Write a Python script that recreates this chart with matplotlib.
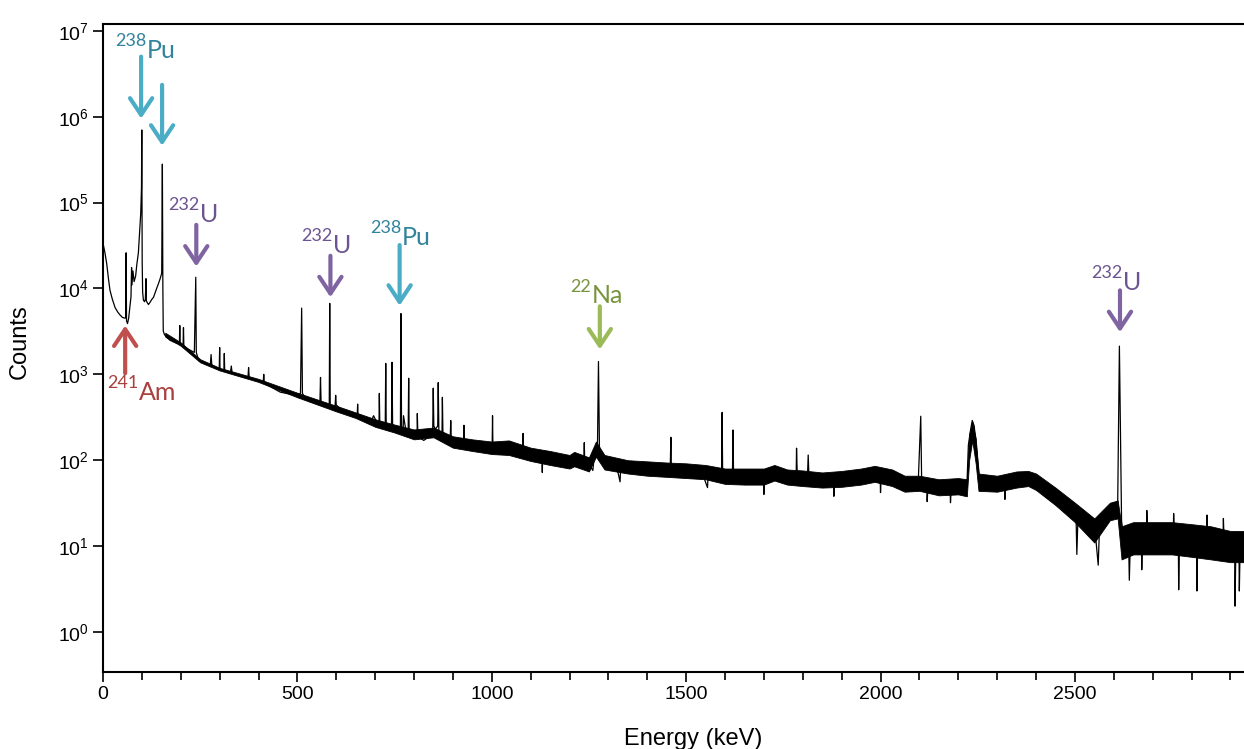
import numpy as np
import matplotlib
matplotlib.use("Agg")
import matplotlib.pyplot as plt

# gamma spectrum (keV, counts); peaks are the narrow spikes
energy = [0, 1, 5, 9.5, 14, 18, 24, 31, 38, 44, 50, 57, 58.5, 59.5, 60.5, 63, 66, 70, 72, 73.5, 74.5,
          77, 80, 84, 87, 91, 94, 97, 99, 99.8, 100.8, 102, 104, 107, 109, 110.5, 111.5, 114, 117,
          121, 125, 130, 134, 138, 143, 147, 151, 152.7, 154, 155, 158, 164, 172, 180, 190, 196.5,
          197.5, 198.5, 206, 207, 208, 216, 225, 235, 238.6, 240, 246, 255, 265, 276, 278, 280, 290,
          299, 300.1, 301, 311, 312, 313, 328, 330, 332, 340, 355, 373, 374.5, 376, 395, 400, 412,
          413.5, 415, 435, 456, 480, 499, 508, 510, 511, 513, 520, 540, 558, 559.5, 561, 575, 582,
          583.2, 584.5, 590, 597, 598.5, 600, 615, 628, 640, 654, 655, 656, 670, 688, 696, 702, 710,
          710.8, 712, 720, 726, 727.3, 728.5, 735, 742, 743.5, 745, 755, 765, 766.4, 768, 772, 773,
          780, 785, 786.3, 787.5, 800, 808, 808.5, 810, 825, 848, 849.5, 851, 855, 861, 862.3, 864,
          872, 873, 874.5, 885, 893, 894.5, 896, 903, 915, 928, 928.5, 930, 950, 970, 985, 1001,
          1002, 1003, 1020, 1044, 1060, 1080, 1080.5, 1082, 1109, 1129, 1130, 1131, 1140, 1170,
          1195, 1212, 1225, 1237, 1238, 1239, 1250, 1260, 1266, 1272, 1274.5, 1277, 1282, 1289,
          1320, 1330, 1332, 1366, 1400, 1440, 1459, 1460.8, 1462, 1500, 1539, 1555, 1557, 1580,
          1591, 1592.5, 1594, 1619, 1620.7, 1622, 1650, 1676, 1699, 1700, 1702, 1727, 1740, 1770,
          1783, 1784, 1786, 1812, 1814, 1816, 1848, 1879, 1880, 1882, 1933, 1985, 1999, 2000, 2002,
          2020, 2062, 2097, 2103.5, 2106, 2119, 2120, 2122, 2149, 2179, 2180, 2182, 2210, 2222,
          2226, 2232, 2236, 2241, 2250, 2256, 2295, 2319, 2320, 2322, 2330, 2363, 2389, 2415, 2441,
          2470, 2492, 2503, 2505, 2508, 2520, 2552, 2560, 2563, 2580, 2595, 2610, 2612, 2614.5, 2617,
          2620, 2625, 2638, 2640, 2643, 2671, 2672, 2674, 2684, 2685, 2687, 2724, 2753, 2754, 2756,
          2766, 2767, 2769, 2813, 2814, 2816, 2839, 2840, 2842, 2881, 2882, 2884, 2911, 2912, 2914,
          2922, 2923, 2925, 2935]
counts = [80, 32000, 26000, 19500, 13000, 9500, 7500, 6000, 5300, 4900, 4600, 4500, 4600, 26000,
          4200, 3900, 4500, 6600, 8000, 17500, 11000, 16000, 12000, 14000, 19000, 26000, 44000,
          74000, 150000, 700000, 20000, 9000, 7300, 7000, 7500, 13000, 7200, 6800, 6500, 6900,
          7400, 7900, 8900, 10000, 11500, 13000, 15000, 280000, 10000, 3200, 2900, 2700, 2500, 2400,
          2300, 2300, 3700, 2250, 2150, 3500, 2100, 2000, 1900, 1800, 13500, 1800, 1450, 1400, 1320,
          1270, 1700, 1260, 1200, 1150, 2050, 1150, 1100, 1750, 1100, 1050, 1250, 1050, 1000, 960,
          930, 1200, 920, 860, 850, 800, 1000, 790, 700, 620, 590, 570, 600, 3000, 5900, 600, 530,
          500, 470, 920, 460, 440, 430, 6700, 420, 400, 430, 570, 440, 380, 350, 340, 330, 450, 330,
          300, 270, 330, 290, 270, 600, 270, 260, 255, 1340, 255, 240, 230, 1380, 240, 230, 225,
          5100, 230, 225, 330, 210, 220, 900, 210, 200, 200, 350, 190, 170, 200, 690, 250, 230, 250,
          800, 210, 200, 540, 190, 175, 170, 290, 165, 160, 160, 155, 255, 150, 150, 145, 140, 140,
          330, 140, 130, 140, 130, 125, 205, 125, 115, 112, 72, 112, 108, 100, 92, 105, 100, 100,
          160, 100, 90, 76, 140, 150, 1410, 140, 110, 95, 90, 56, 90, 83, 80, 78, 78, 185, 78, 76,
          76, 48, 76, 65, 65, 360, 65, 65, 225, 65, 65, 62, 64, 40, 64, 72, 68, 63, 64, 138, 63, 62,
          115, 62, 59, 60, 38, 60, 63, 71, 68, 42, 68, 64, 54, 55, 325, 50, 48, 33, 48, 49, 48, 32,
          48, 50, 48, 150, 230, 290, 250, 100, 55, 54, 56, 35, 56, 60, 63, 60, 48, 37, 29, 24, 22,
          8, 22, 19, 15, 6, 15, 20, 26, 28, 200, 2130, 250, 20, 12, 12.6, 4, 12.6, 12.5, 5.3, 12.5,
          13, 26, 13, 12.6, 12.5, 24, 12.3, 12, 3.1, 12, 11.7, 3, 11.7, 11.3, 23, 11.3, 10.5, 21,
          10.5, 9.8, 2, 9.5, 9.5, 3, 9.8, 10]

# lower / upper edge of the dense noisy band of the continuum
band_e = [160, 200, 250, 300, 400, 500, 600, 650, 700, 750, 800, 850, 900, 950, 1000, 1044, 1100,
          1150, 1200, 1212, 1250, 1268, 1290, 1350, 1400, 1450, 1500, 1550, 1600, 1650, 1700, 1727,
          1760, 1800, 1850, 1900, 1950, 1985, 2030, 2062, 2100, 2150, 2200, 2222, 2228, 2236, 2245,
          2252, 2300, 2350, 2380, 2400, 2450, 2500, 2550, 2590, 2610, 2620, 2650, 2700, 2750, 2800,
          2850, 2900, 2935]
band_lo = [2750, 2150, 1380, 1110, 815, 540, 370, 310, 245, 210, 175, 185, 140, 128, 118, 115, 98,
           88, 80, 85, 74, 110, 78, 70, 66, 64, 62, 60, 53, 52, 52, 58, 52, 50, 48, 49, 52, 56, 50,
           43, 44, 39, 40, 38, 100, 170, 90, 44, 43, 48, 50, 45, 30, 19, 11, 20, 21, 7, 8, 8, 8, 7.5,
           7, 6.5, 6.5]
band_hi = [3050, 2350, 1500, 1190, 885, 610, 430, 360, 300, 260, 228, 240, 190, 175, 165, 170, 140,
           128, 115, 125, 108, 165, 115, 100, 97, 94, 92, 88, 80, 80, 80, 88, 78, 76, 72, 75, 80, 86,
           78, 66, 66, 60, 62, 60, 200, 280, 180, 70, 66, 74, 75, 70, 48, 32, 21, 32, 34, 17, 19, 19,
           19, 18, 17, 15, 15]

# annotations: superscript, symbol, split x (keV), baseline, arrow x, tail, tip, colours
ann_sup = ["238", None, "232", "232", "238", "22", "232", "241"]
ann_sym = ["Pu", None, "U", "U", "Pu", "Na", "U", "Am"]
ann_split = [113, 0, 249.5, 591.6, 769, 1258, 2623, 92.6]
ann_base = [4.8e6, 0, 5.9e4, 2.57e4, 3.2e4, 6.7e3, 9.6e3, 500]
ann_e = [98, 152, 240, 585, 763, 1278, 2616, 57]
ann_tail = [5.0e6, 2.35e6, 5.5e4, 2.4e4, 3.2e4, 6.2e3, 9.5e3, 1.03e3]
ann_tip = [9.5e5, 4.6e5, 1.8e4, 7.9e3, 6.3e3, 1.95e3, 3.1e3, 3.7e3]
arrow_col = ["#4BACC6", "#4BACC6", "#8064A2", "#8064A2", "#4BACC6", "#9BBB59", "#8064A2", "#C0504D"]
text_col = ["#31849B", "#31849B", "#6B5490", "#6B5490", "#31849B", "#77933C", "#6B5490", "#A8403D"]

plt.rcParams['font.family'] = ['Liberation Sans', 'DejaVu Sans']
plt.rcParams['mathtext.fontset'] = 'custom'
plt.rcParams['mathtext.rm'] = 'Liberation Sans'

fig = plt.figure(figsize=(12.44, 7.49), dpi=100)
ax = fig.add_axes([103 / 1244, 1 - 672 / 749, 1 - 103 / 1244, 648 / 749])

ax.fill_between(band_e, band_lo, band_hi, color="black", lw=0.6)
ax.plot(energy, counts, color="black", lw=0.9)

ax.set_yscale("log")
ax.set_xlim(0, 2935)
ax.set_ylim(0.342, 1.2e7)
ax.set_yticks([10.0 ** k for k in range(0, 8)])
ax.yaxis.set_minor_locator(matplotlib.ticker.NullLocator())
ax.set_xticks([0, 500, 1000, 1500, 2000, 2500])
ax.set_xticks(np.arange(0, 2935, 100), minor=True)
ax.tick_params(axis="both", which="both", direction="out", width=1.2, labelsize=14, pad=3)
ax.tick_params(axis="both", which="major", length=7)
ax.tick_params(axis="both", which="minor", length=6)
ax.spines["right"].set_visible(False)
for s in ["left", "bottom", "top"]:
    ax.spines[s].set_linewidth(1.5)

ax.set_xlabel("Energy (keV)", fontsize=17)
ax.set_ylabel("Counts", fontsize=17)
ax.xaxis.set_label_coords(0.517, -0.086)
ax.yaxis.set_label_coords(-0.063, 0.51)

lab_font = ["Lato", "DejaVu Sans"]
for i in range(len(ann_e)):
    ax.annotate("", xy=(ann_e[i], ann_tip[i]), xytext=(ann_e[i], ann_tail[i]),
                arrowprops=dict(arrowstyle="->, head_length=0.6, head_width=0.4", color=arrow_col[i],
                                lw=3, mutation_scale=20, shrinkA=0, shrinkB=0))
    if ann_sym[i] is not None:
        ax.text(ann_split[i], ann_base[i], ann_sym[i], color=text_col[i], fontsize=18,
                family=lab_font, ha="left", va="baseline")
        ax.annotate(ann_sup[i], xy=(ann_split[i], ann_base[i]), xytext=(-0.5, 8.5),
                    textcoords="offset points", color=text_col[i], fontsize=13,
                    family=lab_font, ha="right", va="baseline")

fig.savefig("out.png", dpi=100)
